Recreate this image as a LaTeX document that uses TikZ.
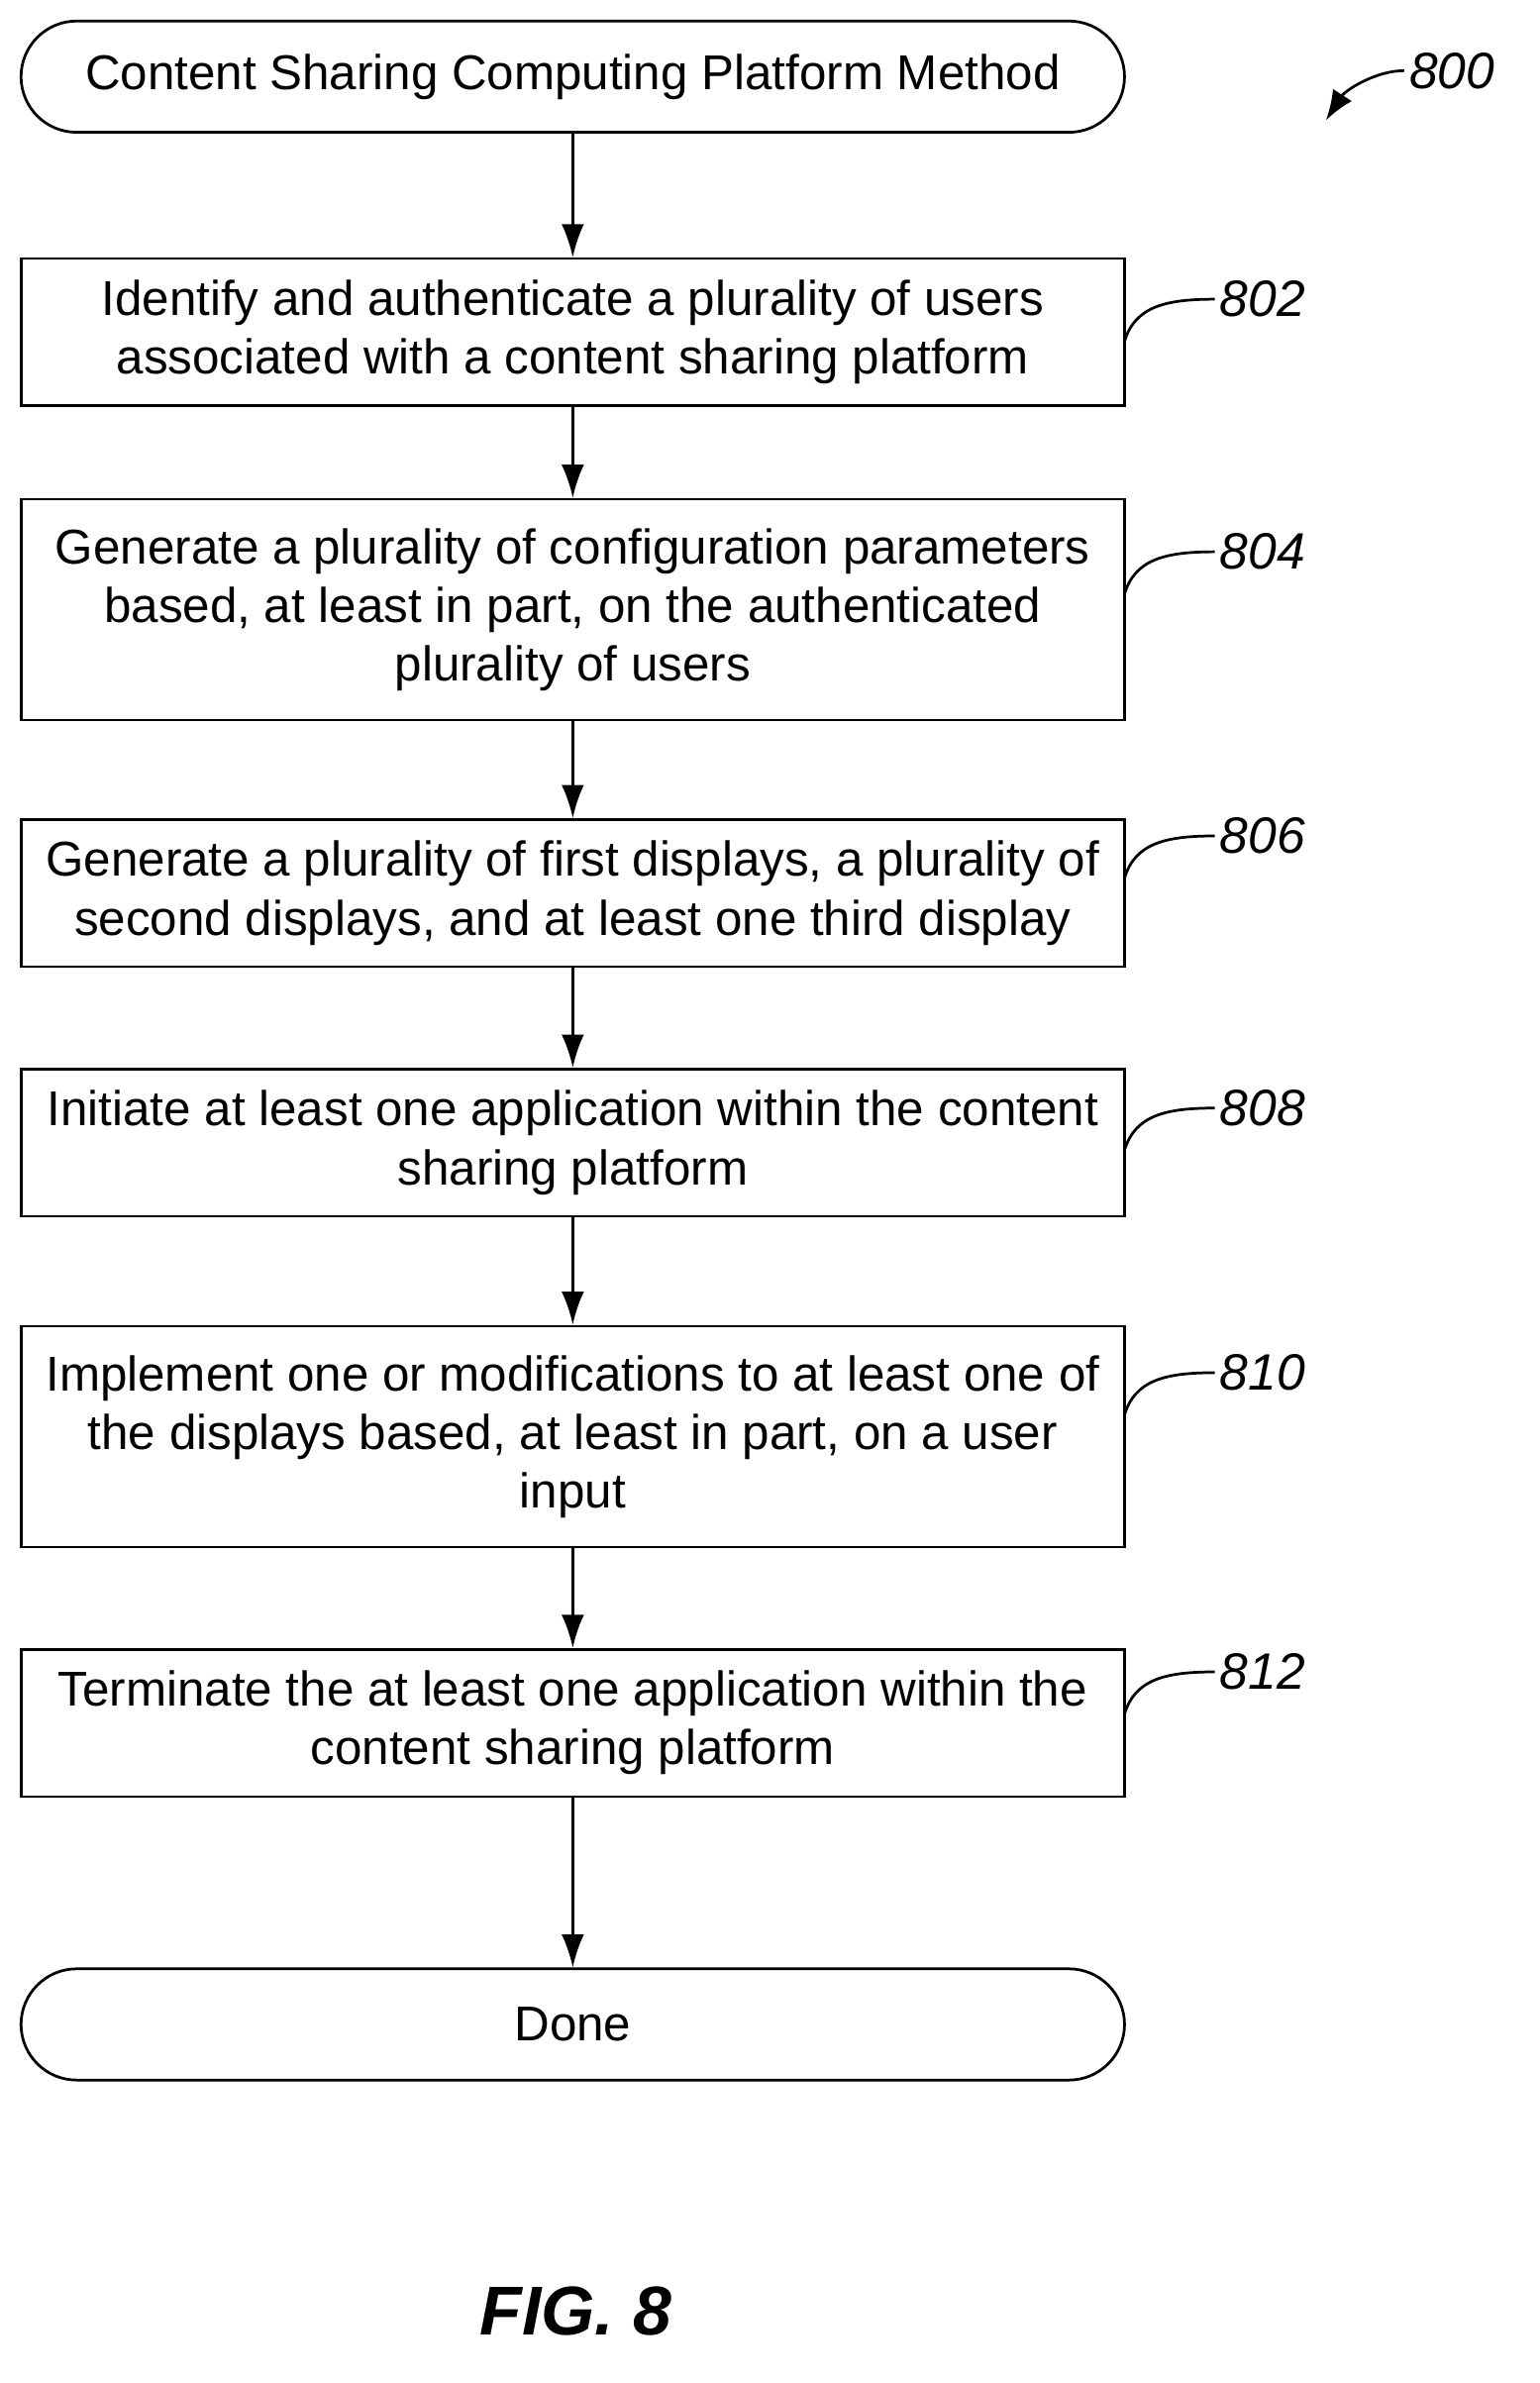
\documentclass[tikz,border=0pt]{standalone}
\usepackage{fontspec}
\setmainfont{Liberation Sans}
\usetikzlibrary{arrows.meta}
\begin{document}
\begin{tikzpicture}[x=1pt,y=-1pt,
  box/.style={draw,line width=1.8pt,minimum width=734pt,align=center,inner sep=0pt,font=\fontsize{32.5}{39}\selectfont},
  term/.style={box,rounded corners=37pt,minimum height=74pt},
  arr/.style={-{Latex[length=22pt,width=15pt]},line width=1.8pt},
  lab/.style={font=\fontsize{34}{36}\selectfont\itshape},
  cur/.style={line width=1.8pt}]
\useasboundingbox (0,0) rectangle (1024,1585);
\node[term] (s) at (381,51) {Content Sharing Computing Platform Method};
\node[box,minimum height=98pt] (b1) at (381,221) {Identify and authenticate a plurality of users\\associated with a content sharing platform};
\node[box,minimum height=147pt] (b2) at (381,405.5) {Generate a plurality of configuration parameters\\based, at least in part, on the authenticated\\plurality of users};
\node[box,minimum height=98pt] (b3) at (381,594) {Generate a plurality of first displays, a plurality of\\second displays, and at least one third display};
\node[box,minimum height=98pt] (b4) at (381,760) {Initiate at least one application within the content\\sharing platform};
\node[box,minimum height=147pt] (b5) at (381,955.5) {Implement one or modifications to at least one of\\the displays based, at least in part, on a user\\input};
\node[box,minimum height=98pt] (b6) at (381,1146) {Terminate the at least one application within the\\content sharing platform};
\node[term] (d) at (381,1346.5) {Done};
\draw[arr] (s) -- (b1);
\draw[arr] (b1) -- (b2);
\draw[arr] (b2) -- (b3);
\draw[arr] (b3) -- (b4);
\draw[arr] (b4) -- (b5);
\draw[arr] (b5) -- (b6);
\draw[arr] (b6) -- (d);
\foreach \n/\t/\y in {1/802/199,2/804/367,3/806/556,4/808/737,5/810/913,6/812/1112}{
  \node[lab,anchor=west] (l\n) at (808,\y) {\t};
  \coordinate (c\n) at (748,\y+28);
  \draw[cur] (c\n) .. controls (755,\y+5) and (775,\y) .. (l\n.west);
}
\node[lab,anchor=west] (l0) at (934,47) {800};
\coordinate (a0) at (882,80);
\draw[-{Latex[length=20pt,width=15pt]},line width=1.8pt] (l0.west) .. controls (915,47) and (895,60) .. (a0);
\node[font=\fontsize{46}{48}\selectfont\bfseries\itshape] (fig) at (383,1537) {FIG. 8};
\end{tikzpicture}
\end{document}
